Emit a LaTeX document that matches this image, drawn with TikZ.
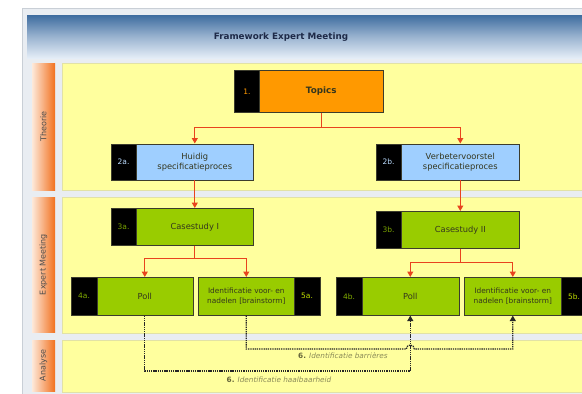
\documentclass[tikz,border=0pt]{standalone}
\usepackage{fontspec}
\setmainfont{DejaVu Sans}
\usetikzlibrary{arrows.meta,calc}

\definecolor{framebg}{HTML}{E9EDF2}
\definecolor{frameline}{HTML}{C9CFD6}
\definecolor{headtop}{HTML}{3E6C9F}
\definecolor{headbot}{HTML}{E4EDF7}
\definecolor{panel}{HTML}{FFFF9E}
\definecolor{panelline}{HTML}{E2E2A6}
\definecolor{stripL}{HTML}{FDE9DA}
\definecolor{stripR}{HTML}{F2711F}
\definecolor{orangebox}{HTML}{FF9900}
\definecolor{bluebox}{HTML}{9FCFFF}
\definecolor{greenbox}{HTML}{99CC00}
\definecolor{boxline}{HTML}{3C3C2C}
\definecolor{connred}{HTML}{E8431E}
\definecolor{titleblue}{HTML}{1E2A48}
\definecolor{boxtext}{HTML}{34361E}
\definecolor{notetext}{HTML}{8A8A58}
\definecolor{notenum}{HTML}{66663A}

\begin{document}
\begin{tikzpicture}[x=1pt,y=-1pt,
  numbox/.style={fill=black, draw=boxline, line width=0.6pt, anchor=north west,
    inner sep=0pt, minimum width=25.5pt, font=\fontsize{7.5}{8}\selectfont},
  stepbox/.style={draw=boxline, line width=0.6pt, anchor=north west, inner sep=1pt,
    align=center, text=boxtext, font=\fontsize{8.3}{10}\selectfont},
  smallstep/.style={stepbox, font=\fontsize{7.4}{9.5}\selectfont},
  conn/.style={draw=connred, line width=1.1pt, -{Triangle[length=5.5pt,width=6pt]}},
  stem/.style={draw=connred, line width=1.1pt},
  dotconn/.style={draw=black!85, line width=1.2pt, dash pattern=on 1.3pt off 0.9pt,
    -{Triangle[length=5.5pt,width=6pt]}},
  lanelabel/.style={rotate=90, text=black!70, font=\fontsize{8}{9}\selectfont},
  note/.style={text=notetext, font=\fontsize{7.3}{8}\selectfont\itshape}
]
\useasboundingbox (0,0) rectangle (582,394);
\clip (0,0) rectangle (582,394);
\fill[white] (0,0) rectangle (582,394);

% outer frame and header band
\filldraw[fill=framebg, draw=frameline, line width=0.8pt] (22,8) rectangle (600,410);
\shade[top color=headtop, bottom color=headbot, middle color=headtop!45!headbot]
  (27,15) rectangle (600,58);
\node[font=\fontsize{8.8}{10}\selectfont\bfseries, text=titleblue] (title) at (281,37)
  {Framework Expert Meeting};

% lane strips
\shade[left color=stripL, right color=stripR] (32,63) rectangle (55,190);
\shade[left color=stripL, right color=stripR] (32,197) rectangle (55,332);
\shade[left color=stripL, right color=stripR] (32,340) rectangle (55,391);
\node[lanelabel] (lTh) at (43.5,126.5) {Theorie};
\node[lanelabel] (lEm) at (43.5,264.5) {Expert Meeting};
\node[lanelabel] (lAn) at (43.5,365.5) {Analyse};

% lane panels
\filldraw[fill=panel, draw=panelline, line width=0.6pt] (62,63) rectangle (600,190);
\filldraw[fill=panel, draw=panelline, line width=0.6pt] (62,197) rectangle (600,333);
\filldraw[fill=panel, draw=panelline, line width=0.6pt] (62,340) rectangle (600,392);

% step 1
\node[numbox, text=orangebox, minimum height=42pt] (n1) at (234,70) {1.};
\node[stepbox, fill=orangebox, minimum width=124pt, minimum height=42pt,
  font=\fontsize{8.8}{10}\selectfont\bfseries] (t1) at (259,70) {Topics};

% steps 2a / 2b
\node[numbox, text=bluebox!70!white, minimum height=36pt] (n2a) at (110.5,143.5) {2a.};
\node[stepbox, fill=bluebox, minimum width=117pt, minimum height=36pt] (t2a) at (136,143.5)
  {Huidig\\specificatieproces};
\node[numbox, text=bluebox!70!white, minimum height=36pt] (n2b) at (375.5,143.5) {2b.};
\node[stepbox, fill=bluebox, minimum width=118pt, minimum height=36pt] (t2b) at (401,143.5)
  {Verbetervoorstel\\specificatieproces};

% steps 3a / 3b
\node[numbox, text=greenbox!80!black, minimum height=37pt] (n3a) at (110.5,208) {3a.};
\node[stepbox, fill=greenbox, minimum width=117pt, minimum height=37pt] (t3a) at (136,208)
  {Casestudy I};
\node[numbox, text=greenbox!80!black, minimum height=37pt] (n3b) at (375.5,211) {3b.};
\node[stepbox, fill=greenbox, minimum width=118pt, minimum height=37pt] (t3b) at (401,211)
  {Casestudy II};

% steps 4a / 5a
\node[numbox, text=greenbox!85!black, minimum height=38pt] (n4a) at (71,277) {4a.};
\node[stepbox, fill=greenbox, minimum width=96pt, minimum height=38pt] (t4a) at (96.5,277)
  {Poll};
\node[smallstep, fill=greenbox, minimum width=96pt, minimum height=38pt] (t5a) at (198,277)
  {Identificatie voor- en\\nadelen [brainstorm]};
\node[numbox, text=greenbox!60!yellow, minimum height=38pt] (n5a) at (294,277) {5a.};

% steps 4b / 5b
\node[numbox, text=greenbox!85!black, minimum height=38pt] (n4b) at (336,277) {4b.};
\node[stepbox, fill=greenbox, minimum width=97pt, minimum height=38pt] (t4b) at (361.5,277)
  {Poll};
\node[smallstep, fill=greenbox, minimum width=97pt, minimum height=38pt] (t5b) at (464,277)
  {Identificatie voor- en\\nadelen [brainstorm]};
\node[numbox, text=greenbox!60!yellow, minimum height=38pt] (n5b) at (561,277) {5b.};

% red flow connectors
\coordinate (fork1) at ($(t1.south)+(0,15)$);
\draw[stem] (t1.south) -- (fork1);
\draw[conn] (fork1) -| (t2a.north);
\draw[conn] (fork1) -| (t2b.north);
\draw[conn] (t2a.south) -- (t3a.north);
\draw[conn] (t2b.south) -- (t3b.north);
\coordinate (fork3a) at ($(t3a.south)+(0,13)$);
\draw[stem] (t3a.south) -- (fork3a);
\draw[conn] (fork3a) -| (t4a.north);
\draw[conn] (fork3a) -| (t5a.north);
\coordinate (fork3b) at ($(t3b.south)+(0,14)$);
\draw[stem] (t3b.south) -- (fork3b);
\draw[conn] (fork3b) -| (t4b.north);
\draw[conn] (fork3b) -| (t5b.north);

% dotted analysis connectors
\coordinate (haal) at (280,371);
\coordinate (barr) at (300,349);
\draw[dotconn] (t4a.south) |- (haal) -| (t4b.south);
\draw[dotconn] (t5a.south) |- ([xshift=-4pt]t4b.south |- barr)
  arc[start angle=180, end angle=0, radius=4pt] -| (t5b.south);

\node[note] (nb) at (343,355.5) {{\upshape\bfseries\color{notenum}6.} Identificatie barrières};
\node[note] (nh) at (279,379.5) {{\upshape\bfseries\color{notenum}6.} Identificatie haalbaarheid};
\end{tikzpicture}
\end{document}
